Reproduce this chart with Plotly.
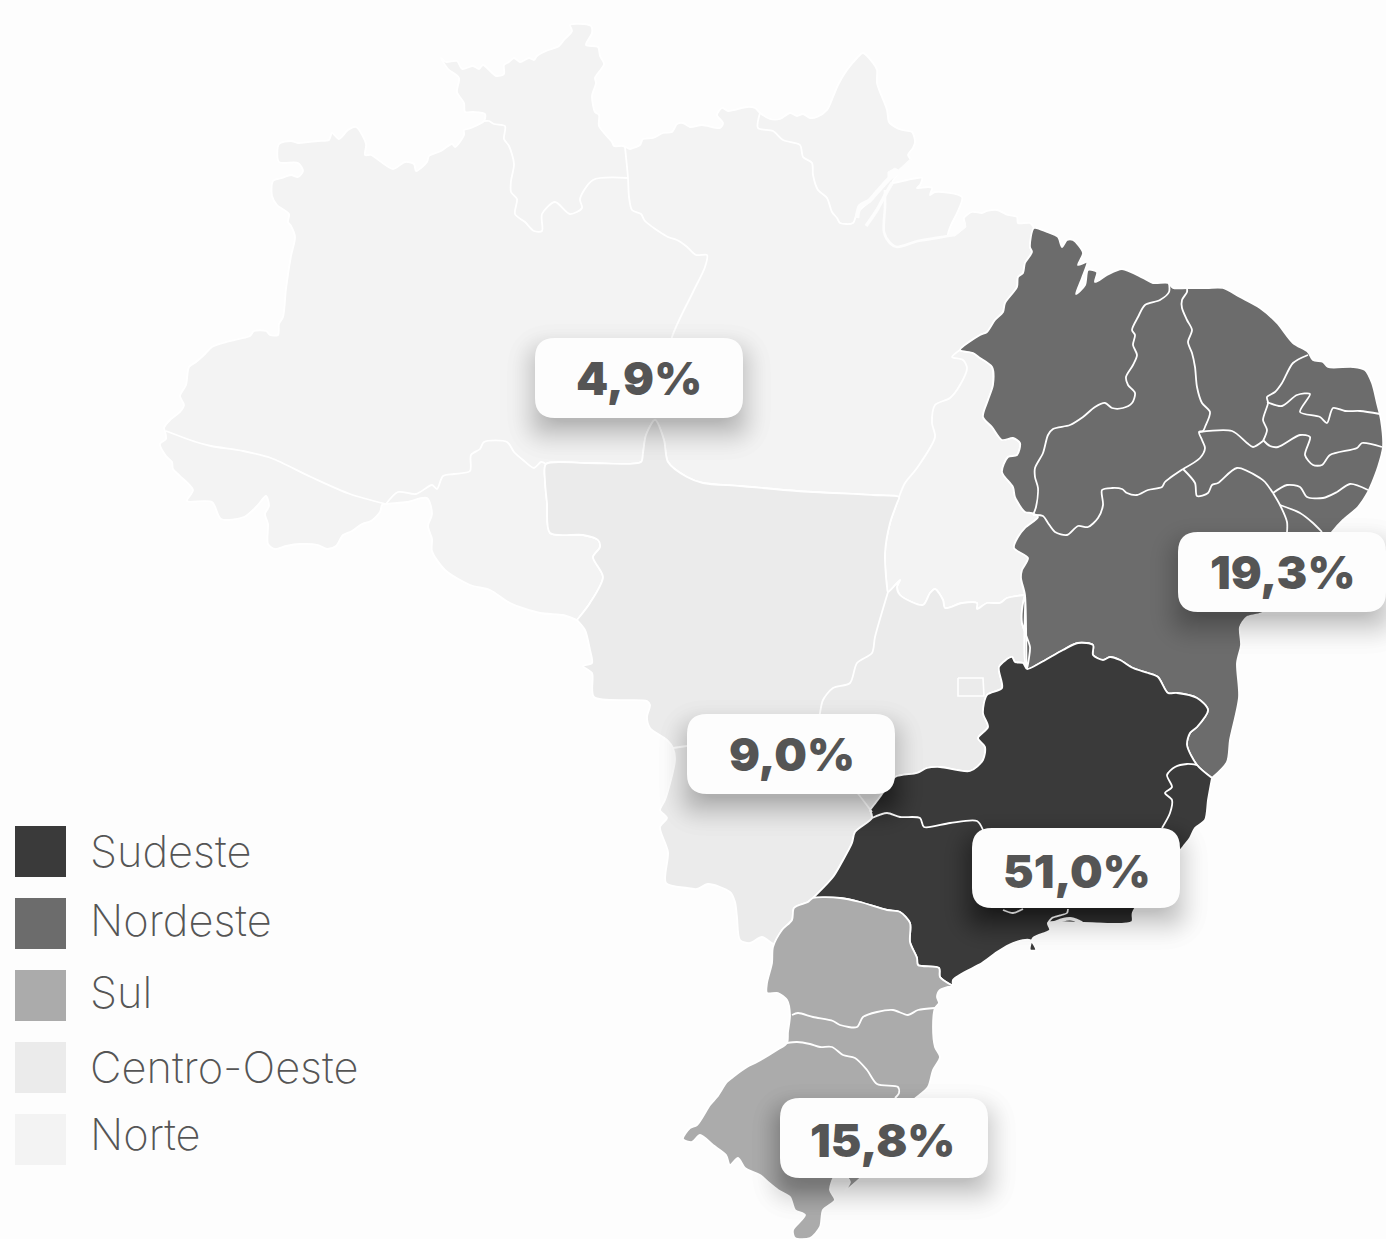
import plotly.graph_objects as go

BG = "#fdfdfd"
REGIONS = ["Sudeste", "Nordeste", "Sul", "Centro-Oeste", "Norte"]
SHARES = ["51,0%", "19,3%", "15,8%", "9,0%", "4,9%"]
COLORS = ["#3a3a3a", "#6c6c6c", "#ababab", "#ebebeb", "#f3f3f3"]
LEGEND_Y = [851.5, 923.5, 995.5, 1067.5, 1139.5]
LEGEND_TEXT_Y = [851, 920, 992, 1067, 1134]
LABEL_X = [1076, 1282, 884, 791, 639]
LABEL_Y = [868, 572, 1138, 754, 378]
LABEL_TEXT_X = [1077, 1282, 882, 792, 638.5]
LABEL_TEXT_Y = [871, 572, 1140, 754, 378]

# Outlines, in picture pixels
N_COAST = [(164,428),(171,419),(180,412),(184,405),(180,396),(186,385),(189,367),(196,362),(205,354),(212,347),(223,343),(239,339),(250,336),(254,331),(266,331),(270,335),(278,335),(279,324),(283,317),(286,289),(291,256),(295,237),(291,226),(288,222),(289,214),(277,205),(272,196),(273,181),(282,178),(291,175),(298,177),(303,171),(298,163),(279,162),(279,144),(291,141),(298,143),(318,141),(329,140),(332,133),(339,139),(348,130),(356,127),(366,144),(365,155),(371,155),(393,169),(405,162),(414,164),(416,171),(427,162),(429,156),(441,151),(452,144),(455,147),(464,135),(464,130),(471,128),(484,121),(485,114),(473,112),(465,112),(464,103),(457,92),(459,78),(448,69),(441,58),(446,62),(457,61),(462,69),(473,66),(479,69),(483,65),(496,76),(504,74),(504,65),(509,62),(514,58),(520,62),(529,58),(534,60),(537,56),(546,51),(559,46),(564,40),(572,31),(570,25),(584,24),(591,26),(592,33),(586,45),(598,47),(600,56),(604,64),(595,78),(596,83),(592,96),(595,112),(599,115),(599,126),(612,142),(614,146),(623,146),(630,149),(633,148),(640,145),(643,139),(653,138),(663,133),(672,132),(677,124),(683,123),(690,127),(702,125),(720,128),(723,123),(717,115),(722,108),(728,111),(747,107),(755,108),(760,113),(770,119),(780,119),(790,113),(797,116),(803,114),(810,118),(817,117),(827,110),(833,97),(838,85),(847,70),(857,58),(863,53),(873,63),(877,70),(877,83),(887,110),(889,122),(895,127),(902,130),(912,132),(915,142),(913,148),(908,155),(912,162),(900,172),(892,183),(907,180),(922,178),(920,185),(917,188),(928,187),(932,188),(930,195),(935,192),(962,197),(957,213),(951,225),(948,235),(953,235),(965,226),(964,218),(972,212),(982,213),(987,211),(997,210),(1008,215),(1017,217),(1018,223),(1030,223),(1034,228)]
TO_NE = [(1034,228),(1030,247),(1032,252),(1025,263),(1023,273),(1018,277),(1017,287),(1005,303),(1003,312),(995,320),(987,332),(980,335),(960,350),(973,353),(980,358),(992,367),(993,385),(988,400),(983,417),(992,427),(1002,440),(1013,438),(1020,443),(1017,455),(1008,457),(1002,472),(1013,487),(1015,497),(1025,512),(1032,513),(1038,517),(1025,528),(1018,537),(1014,548),(1028,558),(1022,570),(1021,578),(1025,595)]
TO_S = [(1025,595),(1007,598),(1000,603),(987,603),(977,609),(977,603),(962,603),(945,608),(943,600),(935,589),(930,593),(923,605),(900,595),(897,587),(900,580),(888,592),(887,587),(885,553),(890,523),(897,503),(899,497)]
MT_N = [(899,497),(873,495),(797,491),(740,486),(703,483),(687,477),(668,462),(664,440),(655,420),(646,435),(643,453),(641,462),(586,463),(546,464),(545,481),(547,503),(550,533),(583,535),(598,540),(600,547),(593,557),(603,577),(590,603),(577,620)]
RO_AC_S = [(577,620),(563,615),(540,613),(510,603),(490,590),(470,585),(445,570),(432,551),(432,539),(428,526),(432,514),(427,498),(407,502),(386,504),(382,505),(380,512),(371,521),(362,524),(352,531),(343,535),(336,546),(327,549),(318,545),(300,544),(286,546),(275,549),(268,544),(268,524),(265,514),(269,506),(266,496),(257,506),(244,517),(221,519),(212,502),(187,501),(193,490),(180,476),(173,469),(172,462),(166,456),(160,444),(166,439),(165,431),(164,428)]
MT_SW = [(577,620),(585,630),(590,650),(592,663),(583,666),(592,673),(594,697),(647,701),(650,705),(647,717),(650,728),(667,740),(673,748),(675,760),(665,800),(660,810),(667,818),(660,827),(668,852),(666,883),(687,888),(697,889),(708,884),(730,892),(735,902),(737,917),(740,940),(750,943),(762,937),(775,944),(782,930),(792,920),(794,908),(808,902),(813,898)]
MS_SP = [(813,898),(833,877),(842,862),(852,843),(855,832),(872,818),(870,810)]
GO_MG = [(870,810),(880,797),(895,777),(917,773),(927,768),(940,767),(970,771),(983,760),(985,747),(978,738),(988,727),(983,713),(987,695),(1002,688),(999,667),(1012,657),(1015,662),(1023,663),(1027,669)]
GO_BA = [(1027,669),(1029,658),(1030,647),(1026,635),(1022,623),(1022,610),(1025,595)]
NE_COAST = [(1034,228),(1047,232),(1058,237),(1062,247),(1067,240),(1073,240),(1083,253),(1078,265),(1087,262),(1082,278),(1076,294),(1085,285),(1088,270),(1097,272),(1095,282),(1107,275),(1122,269),(1143,278),(1153,283),(1168,283),(1173,288),(1187,288),(1207,288),(1223,288),(1240,297),(1260,308),(1277,323),(1293,343),(1308,352),(1313,360),(1323,362),(1328,367),(1353,367),(1365,370),(1372,383),(1377,403),(1381,420),(1383,447),(1378,467),(1372,483),(1368,492),(1358,507),(1343,520),(1332,532),(1290,590),(1262,613),(1247,617),(1240,627),(1241,645),(1237,663),(1239,697),(1230,740),(1227,762),(1212,778)]
BA_MG = [(1212,778),(1197,765),(1187,745),(1190,733),(1197,727),(1208,710),(1197,698),(1177,693),(1168,693),(1158,677),(1148,673),(1133,668),(1120,660),(1110,657),(1103,660),(1093,655),(1093,645),(1078,643),(1063,650),(1040,663),(1027,669)]
SE_COAST = [(1212,778),(1208,800),(1205,820),(1195,828),(1190,838),(1183,847),(1133,912),(1132,922),(1083,923),(1048,923),(1050,930),(1033,938),(1030,950),(1036,950),(1030,940),(1013,943),(997,952),(982,963),(963,973),(953,980),(953,986)]
SP_PR = [(953,986),(940,977),(939,968),(918,965),(917,958),(910,942),(910,923),(900,912),(887,910),(860,902),(840,898),(813,898)]
SUL_COAST = [(953,986),(940,990),(937,997),(939,1003),(935,1008),(933,1027),(935,1047),(940,1057),(933,1070),(928,1087),(917,1097),(880,1130),(862,1176),(855,1183),(845,1191),(850,1182),(845,1176),(835,1176),(830,1190),(835,1200),(823,1210),(820,1227),(810,1238),(795,1238),(793,1230),(805,1215),(795,1210),(790,1197),(778,1190),(768,1182),(760,1175),(745,1168),(738,1158),(730,1165),(726,1155),(713,1145),(700,1135),(692,1142),(683,1139),(690,1128),(697,1125),(710,1105),(717,1097),(727,1082),(733,1077),(747,1067),(757,1062),(777,1050),(787,1043),(788,1032),(790,1015),(787,1000),(778,993),(767,993),(767,983),(772,963),(773,947),(782,930),(792,920),(794,908),(808,902),(813,898)]

# State borders inside the regions
STATE_BORDERS = [
    [(166,431),(196,442),(211,446),(243,451),(271,458),(311,477),(350,494),(386,504)],
    [(546,464),(541,462),(534,468),(523,460),(514,452),(507,442),(484,442),(480,449),(471,455),(470,471),(454,474),(443,476),(437,489),(432,485),(416,494),(398,492),(386,504)],
    [(484,121),(489,121),(494,124),(505,126),(504,139),(509,146),(514,164),(511,181),(511,192),(517,199),(515,214),(525,222),(534,231),(542,231),(542,214),(555,202),(570,214),(582,208),(580,199),(593,180),(628,178)],
    [(625,147),(628,178),(629,197),(632,210),(641,214),(645,221),(668,237),(677,240),(686,246),(696,255),(707,255),(705,267),(693,292),(672,337),(655,418)],
    [(760,113),(758,128),(773,131),(783,140),(800,145),(803,157),(812,163),(813,175),(818,190),(827,198),(832,212),(837,218),(840,223),(853,223),(857,213),(868,203)],
    [(960,350),(952,357),(963,360),(967,368),(960,385),(950,398),(935,405),(932,423),(935,437),(917,468),(905,483),(899,497)],
    [(888,592),(875,637),(872,653),(857,663),(850,683),(833,688),(823,700),(820,713),(815,745),(855,790),(872,812)],
    [(673,748),(700,745),(760,750),(815,745)],
    [(1169,283),(1169,292),(1160,300),(1145,305),(1138,317),(1132,330),(1135,335),(1133,345),(1137,355),(1133,365),(1126,377),(1128,385),(1135,393),(1132,403),(1123,408),(1112,408),(1105,403),(1095,407),(1083,417),(1070,425),(1053,429),(1048,435),(1043,453),(1035,468),(1035,477),(1038,488),(1036,507),(1033,515)],
    [(1187,288),(1187,292),(1182,300),(1182,308),(1187,320),(1192,330),(1188,342),(1192,353),(1195,367),(1197,387),(1202,403),(1210,412),(1205,427),(1203,431),(1199,432),(1202,440),(1205,448),(1200,458),(1183,469)],
    [(1183,469),(1165,482),(1162,487),(1148,490),(1137,495),(1127,493),(1122,489),(1112,488),(1102,490),(1103,505),(1098,518),(1088,527),(1078,526),(1067,535),(1055,532),(1048,523),(1043,516),(1033,515)],
    [(1199,432),(1232,431),(1247,443),(1253,447),(1263,441)],
    [(1263,441),(1267,430),(1263,420),(1268,403),(1267,397),(1275,392),(1282,383),(1293,363),(1308,355)],
    [(1267,402),(1282,406),(1297,395),(1310,394),(1300,412),(1320,417),(1327,423),(1333,408),(1345,411),(1360,411),(1380,414)],
    [(1263,440),(1270,446),(1278,447),(1300,435),(1310,437),(1305,455),(1313,465),(1322,465),(1330,455),(1357,448),(1362,443),(1382,447)],
    [(1273,493),(1287,485),(1300,487),(1307,497),(1323,498),(1337,492),(1350,484),(1368,490)],
    [(1183,469),(1195,483),(1197,496),(1208,493),(1212,485),(1218,483),(1237,468),(1260,478),(1265,482),(1273,493)],
    [(1273,493),(1280,505),(1287,522),(1287,532)],
    [(1280,505),(1300,513),(1313,523),(1322,532)],
    [(872,818),(887,813),(900,817),(920,818),(924,827),(950,823),(977,821),(983,830)],
    [(1003,910),(1013,913),(1023,909)],
    [(1068,909),(1067,913),(1052,918),(1048,923)],
    [(1197,765),(1187,764),(1175,767),(1167,775),(1172,787),(1165,793),(1172,800),(1170,813),(1162,828)],
    [(792,1015),(798,1013),(813,1017),(833,1021),(840,1025),(857,1027),(863,1017),(877,1012),(893,1010),(908,1015),(918,1010),(935,1008)],
    [(787,1043),(797,1042),(810,1044),(820,1047),(832,1047),(843,1055),(855,1058),(867,1070),(877,1084),(898,1087),(899,1093),(895,1098)],
]
DF = [(958,678),(983,678),(984,696),(958,696),(958,678)]
# Water channels of the Amazon delta and Guanabara / Sepetiba bays
CHANNELS = [
    [(912,160),(900,171),(890,178),(878,191),(869,201),(860,206),(857,218)],
    [(892,183),(884,197),(877,210),(866,226)],
    [(885,190),(885,207),(884,232),(890,243),(897,247),(918,241),(948,236),(955,234)],
    [(1052,924),(1062,920),(1072,919),(1082,923)],
]
CHANNEL_WIDTHS = [4.5, 3.5, 2.6, 3.5]
ISLAND_GAPS = [
    [(888,172),(895,168),(900,171),(895,177),(888,178),(888,172)],
    [(948,236),(955,228),(965,222),(966,227),(955,236),(948,236)],
]


def rev(s):
    return s[::-1]


NORTE = N_COAST + TO_NE + TO_S + MT_N + RO_AC_S
CENTRO = MT_N + MT_SW + MS_SP + GO_MG + GO_BA + TO_S
NORDESTE = NE_COAST + BA_MG + rev(GO_BA) + rev(TO_NE)
SUDESTE = rev(BA_MG) + SE_COAST + SP_PR + MS_SP + GO_MG
SUL = rev(SP_PR) + SUL_COAST
RINGS = [SUDESTE, NORDESTE, SUL, CENTRO, NORTE]
SMOOTH = 0.8

fig = go.Figure()


def xs(s):
    return [p[0] for p in s]


def ys(s):
    return [p[1] for p in s]


for i in [4, 3, 1, 0, 2]:
    fig.add_trace(go.Scatter(
        x=xs(RINGS[i]), y=ys(RINGS[i]), mode="lines", fill="toself",
        fillcolor=COLORS[i], line=dict(color="#ffffff", width=1.8, shape="spline", smoothing=SMOOTH),
        hoverinfo="skip", showlegend=False))
for s in STATE_BORDERS:
    fig.add_trace(go.Scatter(x=xs(s), y=ys(s), mode="lines",
                             line=dict(color="#ffffff", width=1.8, shape="spline", smoothing=SMOOTH),
                             hoverinfo="skip", showlegend=False))
fig.add_trace(go.Scatter(x=xs(DF), y=ys(DF), mode="lines",
                         line=dict(color="#ffffff", width=1.6), hoverinfo="skip", showlegend=False))
for s, w in zip(CHANNELS, CHANNEL_WIDTHS):
    fig.add_trace(go.Scatter(x=xs(s), y=ys(s), mode="lines",
                             line=dict(color=BG, width=w, shape="spline", smoothing=SMOOTH),
                             hoverinfo="skip", showlegend=False))
for s in ISLAND_GAPS:
    fig.add_trace(go.Scatter(x=xs(s), y=ys(s), mode="lines", fill="toself", fillcolor=BG,
                             line=dict(color=BG, width=1), hoverinfo="skip", showlegend=False))

# Legend swatches
fig.add_trace(go.Scatter(x=[40.5] * 5, y=LEGEND_Y, mode="markers",
                         marker=dict(symbol="square", size=51, color=COLORS, line=dict(width=0)),
                         hoverinfo="skip", showlegend=False))


def rounded(x0, y0, x1, y1, r):
    return (f"M{x0+r},{y0} L{x1-r},{y0} Q{x1},{y0} {x1},{y0+r} L{x1},{y1-r} Q{x1},{y1} {x1-r},{y1} "
            f"L{x0+r},{y1} Q{x0},{y1} {x0},{y1-r} L{x0},{y0+r} Q{x0},{y0} {x0+r},{y0} Z")


shapes = []
annotations = []
STEPS = 30
for lab, cx, cy, tx, ty in zip(SHARES, LABEL_X, LABEL_Y, LABEL_TEXT_X, LABEL_TEXT_Y):
    x0, x1, y0, y1 = cx - 104, cx + 104, cy - 40, cy + 40
    for k in range(STEPS):
        t = k / (STEPS - 1)
        g = 28 - 38 * t ** 0.6
        shapes.append(dict(type="path", path=rounded(x0 - g, y0 - g + 14, x1 + g, y1 + g + 14, 20 + max(g, 0)),
                           fillcolor="#000000", opacity=0.0095, line=dict(width=0), layer="above"))
    shapes.append(dict(type="path", path=rounded(x0, y0, x1, y1, 20), fillcolor=BG,
                       line=dict(width=0), layer="above"))
    annotations.append(dict(x=tx, y=ty, text=lab, showarrow=False, xanchor="center", yanchor="middle",
                            font=dict(family="Inter", size=46, color="#555555", weight=900)))
for name, y in zip(REGIONS, LEGEND_TEXT_Y):
    annotations.append(dict(x=87.5, y=y, text=name, showarrow=False, xanchor="left", yanchor="middle",
                            font=dict(family="Inter", size=43.4, color="#555555", weight=200)))

fig.update_layout(
    width=1386, height=1239, margin=dict(l=0, r=0, t=0, b=0), autosize=False,
    paper_bgcolor=BG, plot_bgcolor=BG, showlegend=False, shapes=shapes, annotations=annotations,
    xaxis=dict(range=[0, 1386], visible=False, fixedrange=True),
    yaxis=dict(range=[1239, 0], visible=False, fixedrange=True),
)
fig.write_html("out.html", config=dict(displayModeBar=False),
               post_script="document.body.style.margin='0';document.body.style.overflow='hidden';document.body.style.background='#fdfdfd';")
